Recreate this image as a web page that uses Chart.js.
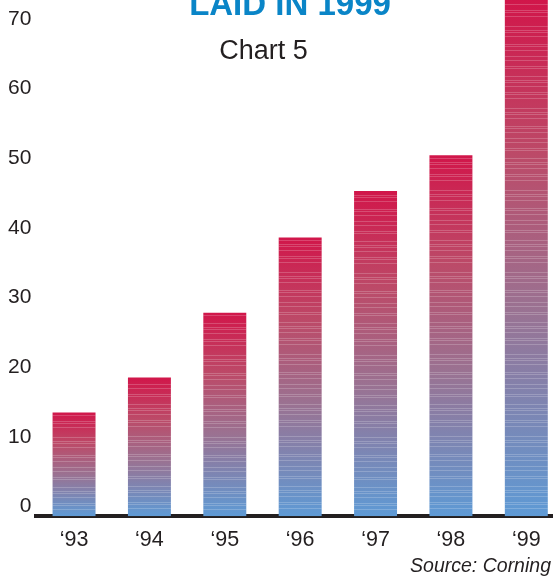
<!DOCTYPE html>
<html lang="en">
<head>
    <meta charset="UTF-8">
    <title>Laid in 1999 - Chart 5</title>
    <style>
        body {
            margin: 0;
            background: #fff;
            overflow: hidden;
            font-family: 'Liberation Sans', Arial, sans-serif;
        }
        .wrap {
            position: relative;
            width: 564px;
            height: 578px;
        }
        .title {
            position: absolute;
            left: 0;
            width: 580px;
            top: -13px;
            text-align: center;
            font-size: 33px;
            line-height: 33px;
            font-weight: bold;
            color: #0a85c7;
        }
        .subtitle {
            position: absolute;
            left: 0;
            width: 527px;
            top: 37px;
            text-align: center;
            font-size: 27px;
            line-height: 27px;
            color: #231f20;
        }
        .source {
            position: absolute;
            right: 13px;
            top: 555px;
            font-size: 19.5px;
            line-height: 20px;
            font-style: italic;
            color: #231f20;
        }
    </style>
</head>
<body>
    <div class="wrap">
        <canvas id="chart"></canvas>
        <div class="title">LAID IN 1999</div>
        <div class="subtitle">Chart 5</div>
        <div class="source">Source: Corning</div>
    </div>

    <script src="https://cdn.jsdelivr.net/npm/chart.js@4.4.1/dist/chart.umd.min.js"></script>
    <script>
        // data
        var years = ['\u201893', '\u201894', '\u201895', '\u201896', '\u201897', '\u201898', '\u201899'];
        var values = [13.5, 18.5, 27.8, 38.6, 45.3, 50.4, 72.7];
        var yTicks = [0, 10, 20, 30, 40, 50, 60, 70];

        // axis sits a little below the 0 label in the original
        var Y_MIN = -1.4;
        var Y_MAX = 72.7;

        function barGradient(ctx) {
            var chart = ctx.chart;
            if (!chart.chartArea || ctx.type !== 'data') return '#a06a8c';
            var y = chart.scales.y;
            var top = y.getPixelForValue(values[ctx.dataIndex]);
            var bottom = y.getPixelForValue(Y_MIN);
            var g = chart.ctx.createLinearGradient(0, top, 0, bottom);
            g.addColorStop(0, '#d1164a');
            g.addColorStop(0.3, '#bc4a68');
            g.addColorStop(0.6, '#9a7292');
            g.addColorStop(1, '#5e9ad5');
            return g;
        }

        // thin light horizontal lines over the bars, like the printed texture
        var stripePattern = '10100110100001011010001101001010011000101';
        var stripes = {
            id: 'stripes',
            afterDatasetsDraw: function (chart) {
                var c = chart.ctx;
                var meta = chart.getDatasetMeta(0);
                c.save();
                c.beginPath();
                c.rect(chart.chartArea.left, chart.chartArea.top, chart.chartArea.width, chart.chartArea.height);
                c.clip();
                c.fillStyle = 'rgba(255,255,255,0.2)';
                meta.data.forEach(function (bar) {
                    var left = bar.x - bar.width / 2;
                    var top = Math.ceil(bar.y) + 2;
                    for (var row = top; row < bar.base - 1; row += 2) {
                        if (stripePattern[(row / 2 | 0) % stripePattern.length] === '1') {
                            c.fillRect(left, row, bar.width, 1);
                        }
                    }
                });
                c.restore();
            }
        };

        new Chart(document.getElementById('chart'), {
            type: 'bar',
            data: {
                labels: years,
                datasets: [{
                    data: values,
                    base: Y_MIN,
                    backgroundColor: barGradient,
                    borderWidth: 0,
                    barPercentage: 0.57,
                    categoryPercentage: 1
                }]
            },
            options: {
                responsive: true,
                maintainAspectRatio: false,
                animation: false,
                layout: {
                    padding: { top: 0, left: 3, right: 0, bottom: 14 }
                },
                plugins: {
                    legend: { display: false },
                    tooltip: { enabled: false },
                    title: { display: false }
                },
                scales: {
                    x: {
                        grid: { display: false, drawTicks: false },
                        border: { display: true, color: '#231f20', width: 4 },
                        ticks: {
                            color: '#231f20',
                            padding: 11,
                            font: { family: "'Liberation Sans', Arial, sans-serif", size: 21.5 }
                        }
                    },
                    y: {
                        min: Y_MIN,
                        max: Y_MAX,
                        grid: { display: false, drawTicks: false },
                        border: { display: false },
                        afterBuildTicks: function (scale) {
                            scale.ticks = yTicks.map(function (v) { return { value: v }; });
                        },
                        // the end labels are not at the scale ends, so no extra room is needed
                        afterFit: function (scale) {
                            scale.paddingTop = 0;
                            scale.paddingBottom = 0;
                        },
                        ticks: {
                            color: '#231f20',
                            padding: 5,
                            font: { family: "'Liberation Sans', Arial, sans-serif", size: 21 }
                        }
                    }
                }
            },
            plugins: [stripes]
        });
    </script>
</body>
</html>
